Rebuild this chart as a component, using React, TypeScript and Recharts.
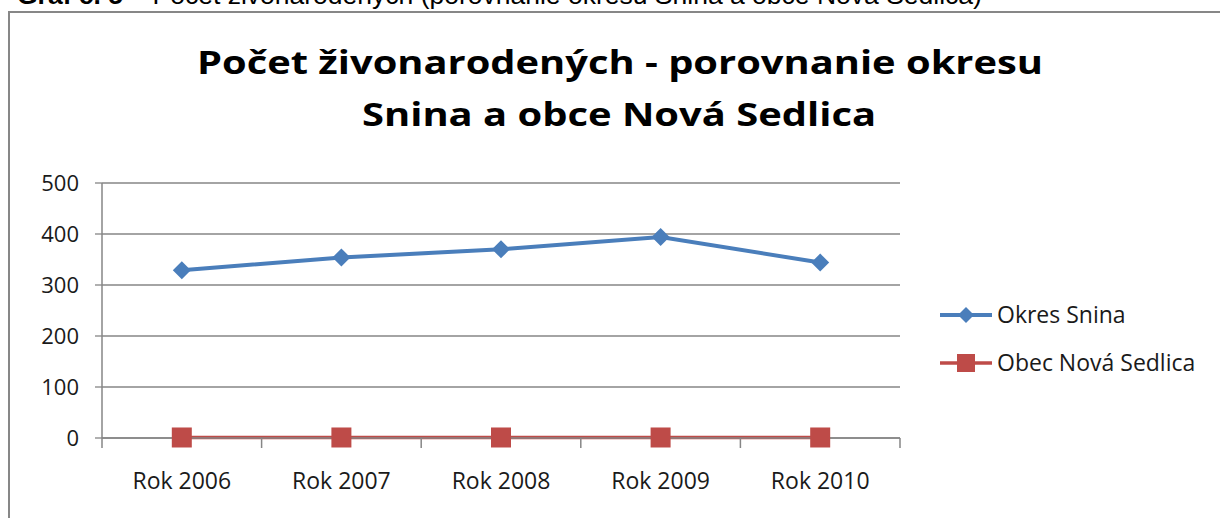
import { LineChart, Line, XAxis, YAxis, CartesianGrid, Legend } from "recharts";

const years = ["Rok 2006", "Rok 2007", "Rok 2008", "Rok 2009", "Rok 2010"];
const okresSnina = [329, 354, 370, 394, 344];
const novaSedlica = [1, 1, 1, 1, 1];
const yTicks = [0, 100, 200, 300, 400, 500];

const data = years.map((year, i) => ({
  year,
  snina: okresSnina[i],
  sedlica: novaSedlica[i],
}));

const W = 1220;
const H = 518;
const M = { top: 183, right: 320, bottom: 20, left: 0 };
const Y_W = 102;
const PLOT_W = W - M.left - M.right - Y_W;
const HALF_BAND = PLOT_W / years.length / 2;

const BLUE = "#4A7EBB";
const RED = "#BE4B48";
const GRID = "#868686";
const TEXT = "#1a1a1a";
const FONT = "'Open Sans', sans-serif";

const Diamond = ({ cx, cy, size = 9, fill }: any) => (
  <polygon
    points={`${cx},${cy - size} ${cx + size},${cy} ${cx},${cy + size} ${cx - size},${cy}`}
    fill={fill}
  />
);

const Square = ({ cx, cy, size = 10, fill }: any) => (
  <rect x={cx - size} y={cy - size} width={size * 2} height={size * 2} fill={fill} />
);

// Excel style: ticks sit between categories, labels under the centre
const XTick = ({ x, y, payload, index }: any) => {
  const last = index === years.length - 1;
  return (
    <g>
      <line x1={x - HALF_BAND} x2={x - HALF_BAND} y1={y} y2={y + 10} stroke={GRID} strokeWidth={1.5} />
      {last && (
        <line x1={x + HALF_BAND} x2={x + HALF_BAND} y1={y} y2={y + 10} stroke={GRID} strokeWidth={1.5} />
      )}
      <text x={x} y={y + 51} textAnchor="middle" fontSize={23} fontFamily={FONT} fill={TEXT}>
        {payload.value}
      </text>
    </g>
  );
};

const legendOrder = ["snina", "sedlica"];

const LegendBox = ({ payload }: any) => {
  const items = legendOrder
    .map((key) => (payload || []).find((p: any) => p.dataKey === key))
    .filter(Boolean);
  return (
    <svg width={284} height={100} style={{ overflow: "visible" }}>
      {items.map((entry: any, i: number) => {
        const cy = 20 + i * 48;
        return (
          <g key={entry.value}>
            <line x1={4} x2={56} y1={cy} y2={cy} stroke={entry.color} strokeWidth={i === 0 ? 4 : 3.5} />
            {i === 0 ? (
              <Diamond cx={30} cy={cy} size={8} fill={entry.color} />
            ) : (
              <Square cx={30} cy={cy} size={9} fill={entry.color} />
            )}
            <text x={61} y={cy + 8} fontSize={23} fontFamily={FONT} fill={TEXT}>
              {entry.value}
            </text>
          </g>
        );
      })}
    </svg>
  );
};

export default function App() {
  return (
    <div
      style={{
        position: "absolute",
        left: 0,
        top: 0,
        width: W,
        height: H,
        overflow: "hidden",
        background: "#fff",
      }}
    >
      {/* chart frame, right and bottom edges run off the page */}
      <div
        style={{
          position: "absolute",
          left: 8,
          top: 11,
          width: 1400,
          height: 700,
          borderLeft: "2px solid #878787",
          borderTop: "2px solid #878787",
        }}
      />

      <div style={{ position: "absolute", left: 0, top: 0 }}>
        <LineChart width={W} height={H} data={data} margin={M}>
          <CartesianGrid vertical={false} stroke={GRID} strokeWidth={1.3} />
          <XAxis
            dataKey="year"
            height={60}
            padding={{ left: HALF_BAND, right: HALF_BAND }}
            axisLine={{ stroke: GRID, strokeWidth: 1.5 }}
            tickLine={false}
            tickSize={0}
            tickMargin={0}
            interval={0}
            tick={(props: any) => <XTick {...props} />}
          />
          <YAxis
            width={Y_W}
            domain={[0, 500]}
            ticks={yTicks}
            interval={0}
            axisLine={{ stroke: GRID, strokeWidth: 1.5 }}
            tickLine={{ stroke: GRID, strokeWidth: 1.3 }}
            tickSize={7}
            tickMargin={16}
            tick={{ fontSize: 22, fontFamily: FONT, fill: TEXT }}
          />
          <Legend
            layout="horizontal"
            verticalAlign="middle"
            align="center"
            content={(props: any) => <LegendBox {...props} />}
            wrapperStyle={{ left: 936, top: 295, right: "auto", bottom: "auto", width: 284 }}
          />
          <Line
            dataKey="snina"
            name="Okres Snina"
            stroke={BLUE}
            strokeWidth={4}
            isAnimationActive={false}
            dot={(p: any) => <Diamond key={`s-${p.index}`} cx={p.cx} cy={p.cy} fill={BLUE} />}
            activeDot={false}
          />
          <Line
            dataKey="sedlica"
            name="Obec Nová Sedlica"
            stroke={RED}
            strokeWidth={3.5}
            isAnimationActive={false}
            dot={(p: any) => <Square key={`n-${p.index}`} cx={p.cx} cy={p.cy} fill={RED} />}
            activeDot={false}
          />
        </LineChart>
      </div>

      <svg
        width={W}
        height={H}
        style={{ position: "absolute", left: 0, top: 0, pointerEvents: "none" }}
      >
        <text x={17} y={4} fontSize={26.5} fontFamily="'Liberation Sans', Arial, sans-serif" fill="#000">
          <tspan fontWeight="bold">Graf č. 5</tspan>
          <tspan> – Počet živonarodených (porovnanie okresu Snina a obce Nová Sedlica)</tspan>
        </text>
        <text
          x={620}
          y={74}
          textAnchor="middle"
          fontSize={32}
          fontWeight="bold"
          fontFamily={FONT}
          fill="#000"
          textLength={846}
          lengthAdjust="spacingAndGlyphs"
        >
          Počet živonarodených - porovnanie okresu
        </text>
        <text
          x={619}
          y={126}
          textAnchor="middle"
          fontSize={32}
          fontWeight="bold"
          fontFamily={FONT}
          fill="#000"
          textLength={514}
          lengthAdjust="spacingAndGlyphs"
        >
          Snina a obce Nová Sedlica
        </text>
      </svg>
    </div>
  );
}
